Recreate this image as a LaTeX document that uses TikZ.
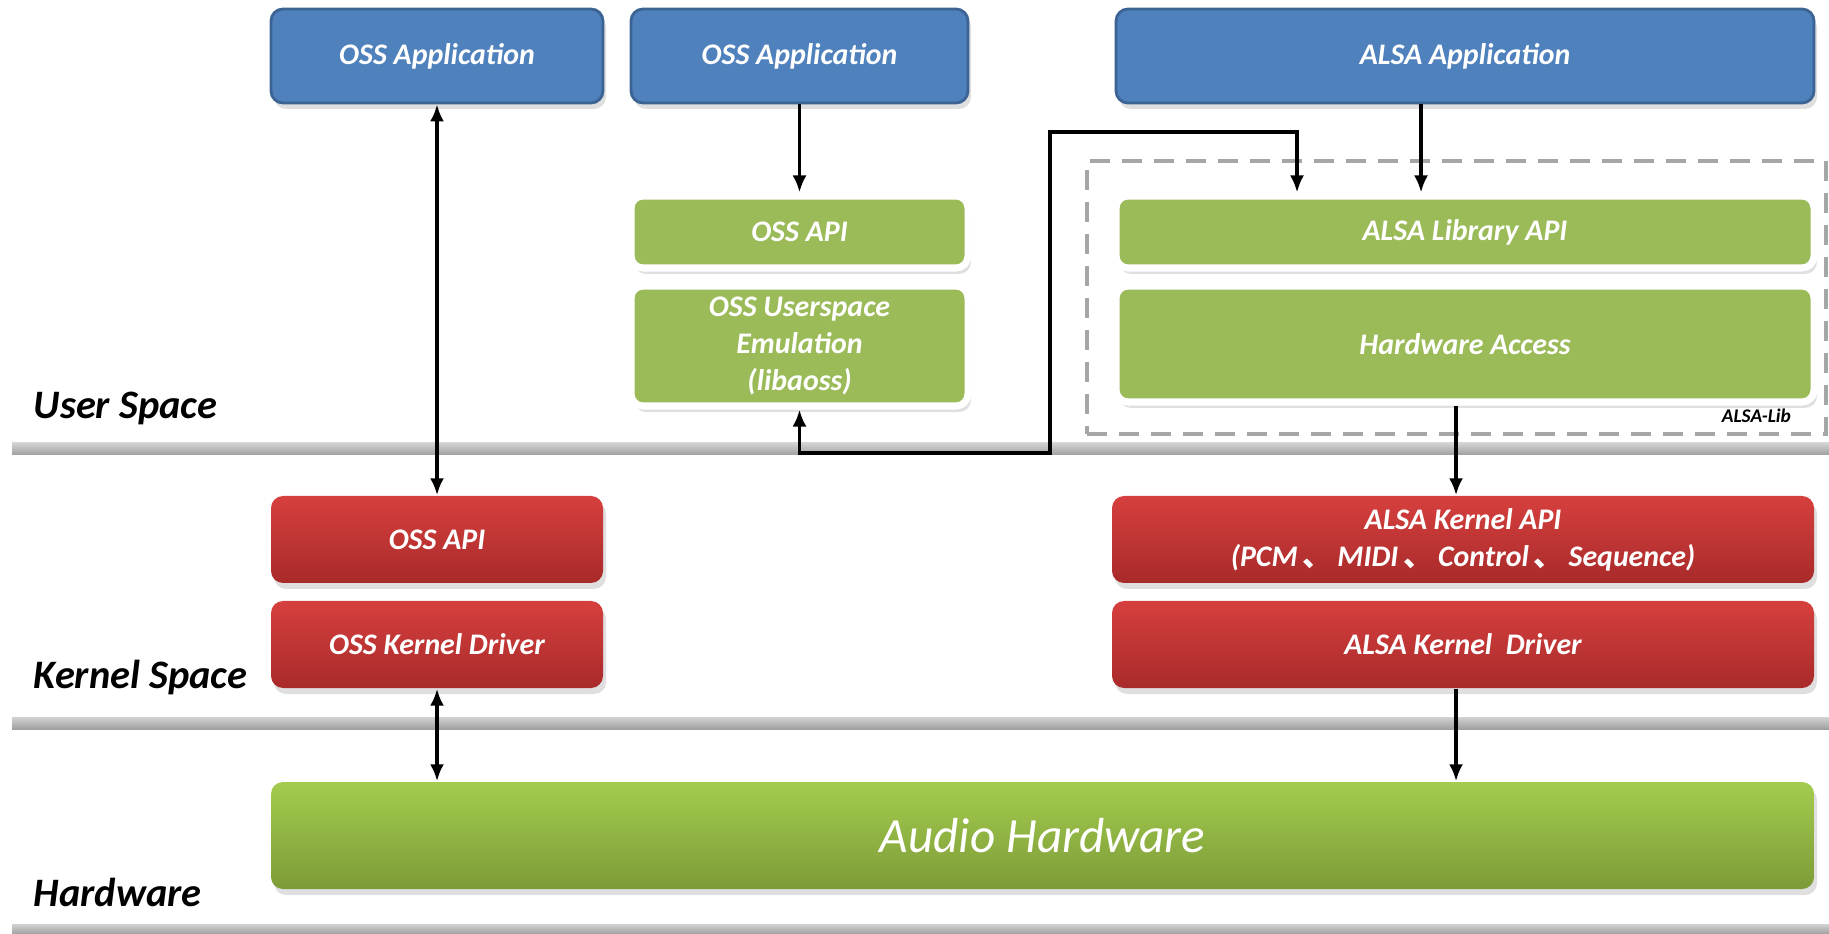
\documentclass[tikz,border=0pt]{standalone}
\usepackage{fontspec}
\setmainfont{Carlito}
\newfontfamily\cjk{Noto Sans CJK SC}
\usetikzlibrary{arrows.meta, shadows}

\definecolor{appblue}{HTML}{4F81BD}
\definecolor{appborder}{HTML}{3B6494}
\definecolor{libgreen}{HTML}{9BBB59}
\definecolor{kerntop}{HTML}{D6403E}
\definecolor{kernbot}{HTML}{A82A2A}
\definecolor{hwtop}{HTML}{A3CC4E}
\definecolor{hwbot}{HTML}{7D9B38}

\begin{document}
\begin{tikzpicture}[x=1mm,y=-1mm,
  >={Latex[length=1.7mm,width=1.4mm]},
  box/.style={rounded corners=1.2mm, align=center, text=white, inner sep=0pt,
    font=\fontsize{8.5}{10.5}\selectfont\bfseries\itshape},
  shade/.style={drop shadow={opacity=0.25, shadow xshift=0.3mm, shadow yshift=-0.6mm}},
  appbox/.style={box, shade, fill=appblue, draw=appborder, line width=0.8pt},
  libbox/.style={box, shade, fill=libgreen, draw=white, line width=2pt},
  kernbox/.style={box, shade, top color=kerntop, bottom color=kernbot},
  hwbox/.style={box, shade, top color=hwtop, bottom color=hwbot,
    font=\fontsize{14}{16}\selectfont\itshape},
  libframe/.style={draw=gray!70, dashed, dash pattern=on 2mm off 1.2mm, line width=0.9pt},
  sepline/.style={top color=gray!35, bottom color=gray!75},
  space/.style={anchor=west, inner sep=0pt, font=\fontsize{11.5}{13}\selectfont\bfseries\itshape},
  link/.style={line width=1.1pt}]
\useasboundingbox (0,0) rectangle (182.9,93.4);

%Separators of the layers
\fill[sepline] (1.2,44.3) rectangle (182.9,45.5);
\fill[sepline] (1.2,71.7) rectangle (182.9,72.9);
\fill[sepline] (1.2,92.4) rectangle (182.9,93.4);

%Names of the layers
\node[space] (user) at (3.3,40.8) {User Space};
\node[space] (kernel) at (3.3,67.7) {Kernel Space};
\node[space] (hw) at (3.3,89.2) {Hardware};

%Applications
\node[appbox, minimum width=33.2mm, minimum height=9.4mm] (ossappA) at (43.7,5.6) {OSS Application};
\node[appbox, minimum width=33.7mm, minimum height=9.4mm] (ossappB) at (79.95,5.6) {OSS Application};
\node[appbox, minimum width=69.8mm, minimum height=9.4mm] (alsaapp) at (146.5,5.6) {ALSA Application};

%User space libraries
\node[libframe, minimum width=73.9mm, minimum height=27.3mm] (alsalib) at (145.65,29.75) {};
\node[anchor=south east, inner sep=0pt, font=\fontsize{5.5}{6}\selectfont\bfseries\itshape]
  (alsalibname) at ([shift={(-3.6mm,1.2mm)}]alsalib.south east) {ALSA-Lib};
\node[libbox, minimum width=33.7mm, minimum height=7.2mm] (ossapi) at (79.95,23.2) {OSS API};
\node[libbox, minimum width=33.7mm, minimum height=12mm] (emul) at (79.95,34.6) {OSS Userspace\\Emulation\\(libaoss)};
\node[libbox, minimum width=69.8mm, minimum height=7.2mm] (alsaapi) at (146.5,23.2) {ALSA Library API};
\node[libbox, minimum width=69.8mm, minimum height=11.6mm] (hwaccess) at (146.5,34.4) {Hardware Access};

%Kernel space
\node[kernbox, minimum width=33.2mm, minimum height=8.7mm] (osskapi) at (43.7,53.95) {OSS API};
\node[kernbox, minimum width=33.2mm, minimum height=8.7mm] (ossdrv) at (43.7,64.45) {OSS Kernel Driver};
\node[kernbox, minimum width=70.2mm, minimum height=8.7mm] (alsakapi) at (146.3,53.95)
  {ALSA Kernel API\\(PCM\,{\cjk 、}\,MIDI\,{\cjk 、}\,Control\,{\cjk 、}\,Sequence)};
\node[kernbox, minimum width=70.2mm, minimum height=8.7mm] (alsadrv) at (146.3,64.45) {ALSA Kernel \ Driver};

%Hardware
\node[hwbox, minimum width=154.3mm, minimum height=10.7mm] (audiohw) at (104.25,83.55) {Audio Hardware};

%Connections
\draw[link, <->] (ossappA) -- (osskapi);
\draw[link, ->] (ossappB) -- (ossapi);
\draw[link, ->] ([xshift=-4.4mm]alsaapp.south) -- ([xshift=-4.4mm]alsaapi.north);
\draw[link, <->] (emul.south) |- (105,45.3) -- (105,13.2) -| ([xshift=-16.8mm]alsaapi.north);
\draw[link, ->] ([xshift=-0.9mm]hwaccess.south) -- ([xshift=-0.7mm]alsakapi.north);
\draw[link, <->] (ossdrv) -- (ossdrv.south |- audiohw.north);
\draw[link, ->] ([xshift=-0.7mm]alsadrv.south) -- ([xshift=-0.7mm]alsadrv.south |- audiohw.north);

\end{tikzpicture}
\end{document}
